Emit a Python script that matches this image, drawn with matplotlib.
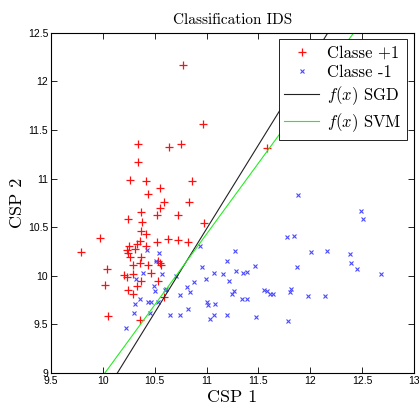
import matplotlib
matplotlib.use("Agg")
import matplotlib.pyplot as plt

plt.rcParams["mathtext.fontset"] = "cm"
plt.rcParams["axes.unicode_minus"] = False

# Classe +1 (red crosses)
pos_x = [10.77, 10.97, 10.34, 10.75, 10.64, 10.34, 10.26, 10.42, 10.86, 10.55,
         10.44, 10.59, 10.83, 10.55, 10.37, 10.52, 10.72, 10.24, 10.38, 10.98,
         10.37, 10.42, 9.97, 10.63, 10.72, 10.82, 10.52, 10.36, 10.33, 10.25,
         10.23, 10.24, 10.26, 10.31, 10.37, 10.42, 9.79, 10.53, 10.55, 10.56,
         10.29, 10.36, 10.44, 10.04, 10.46, 10.20, 10.23, 10.29, 10.37, 10.53,
         10.02, 10.33, 10.24, 10.29, 10.59, 10.05, 10.36, 11.58]
pos_y = [12.17, 11.56, 11.36, 11.36, 11.32, 11.17, 10.98, 10.97, 10.97, 10.90,
         10.84, 10.76, 10.76, 10.70, 10.66, 10.63, 10.63, 10.58, 10.55, 10.54,
         10.46, 10.43, 10.39, 10.38, 10.37, 10.35, 10.35, 10.36, 10.33, 10.31,
         10.26, 10.23, 10.19, 10.28, 10.19, 10.31, 10.24, 10.15, 10.13, 10.11,
         10.11, 10.13, 10.11, 10.07, 10.03, 10.01, 9.99, 10.02, 9.95, 9.95,
         9.91, 9.89, 9.85, 9.81, 9.78, 9.59, 9.54, 11.31]

# Classe -1 (blue x)
neg_x = [10.43, 10.54, 10.51, 10.94, 11.27, 11.20, 10.57, 10.96, 11.07, 11.16,
         11.28, 10.71, 10.99, 11.22, 10.88, 10.32, 10.81, 10.84, 10.61, 10.60,
         10.49, 10.50, 10.74, 11.26, 11.25, 10.36, 10.44, 10.46, 11.00, 11.01,
         11.08, 10.31, 10.53, 10.82, 10.30, 10.45, 10.65, 10.74, 11.07, 11.03,
         11.20, 10.22, 12.49, 12.51, 11.78, 11.84, 11.35, 11.39, 11.47, 11.87,
         12.01, 12.16, 12.38, 12.39, 12.45, 12.68, 11.34, 11.39, 11.55, 11.58,
         11.61, 11.64, 11.81, 11.80, 11.98, 12.14, 11.48, 11.79, 10.39, 11.88]
neg_y = [10.26, 10.23, 10.15, 10.31, 10.25, 10.15, 10.02, 10.09, 10.03, 10.02,
         10.05, 10.00, 9.97, 9.95, 9.94, 9.97, 9.88, 9.83, 9.86, 9.85,
         9.89, 9.84, 9.80, 9.84, 9.81, 9.76, 9.73, 9.73, 9.73, 9.70,
         9.71, 9.71, 9.73, 9.66, 9.62, 9.62, 9.60, 9.60, 9.60, 9.56,
         9.60, 9.46, 10.67, 10.58, 10.40, 10.41, 10.03, 10.04, 10.10, 10.09,
         10.24, 10.25, 10.22, 10.13, 10.07, 10.02, 9.76, 9.76, 9.85, 9.84,
         9.81, 9.81, 9.86, 9.83, 9.79, 9.79, 9.58, 9.53, 10.03, 10.83]

# decision boundaries (end points)
sgd_x = [10.14, 12.17]
sgd_y = [9.0, 12.5]
svm_x = [10.02, 12.42]
svm_y = [9.0, 12.5]

x_ticks = [9.5, 10, 10.5, 11, 11.5, 12, 12.5, 13]
x_labels = ["9.5", "10", "10.5", "11", "11.5", "12", "12.5", "13"]
y_ticks = [9, 9.5, 10, 10.5, 11, 11.5, 12, 12.5]
y_labels = ["9", "9.5", "10", "10.5", "11", "11.5", "12", "12.5"]

SERIF = "cmr10"

fig = plt.figure(figsize=(4.19, 4.16), dpi=100)
ax = fig.add_axes([0.1217, 0.1034, 0.8663, 0.818])

ax.plot(pos_x, pos_y, "+", color="#ff1010", markersize=6, markeredgewidth=0.9,
        label="Classe +1")
ax.plot(neg_x, neg_y, "x", color="#4a4aff", markersize=3.5, markeredgewidth=0.8,
        label="Classe -1")
ax.plot(sgd_x, sgd_y, color="#222222", linewidth=0.8, label="$f(x)$ SGD")
ax.plot(svm_x, svm_y, color="#22ee22", linewidth=0.8, label="$f(x)$ SVM")

ax.set_xlim(9.5, 13)
ax.set_ylim(9, 12.5)
ax.set_xticks(x_ticks)
ax.set_xticklabels(x_labels)
ax.set_yticks(y_ticks)
ax.set_yticklabels(y_labels)
ax.tick_params(direction="in", length=4, width=0.6, top=True, right=True,
               labelsize=7.5, pad=2)
for lab in ax.get_xticklabels() + ax.get_yticklabels():
    lab.set_fontfamily("Liberation Sans")
for spine in ax.spines.values():
    spine.set_linewidth(0.8)

ax.set_title("Classification IDS", fontfamily=SERIF, fontsize=11, pad=6)
ax.set_xlabel("CSP 1", fontfamily=SERIF, fontsize=13, labelpad=3)
ax.set_ylabel("CSP 2", fontfamily=SERIF, fontsize=13, labelpad=2)

leg = ax.legend(loc="upper right", prop={"family": SERIF, "size": 12},
                fancybox=False, framealpha=1, edgecolor="black",
                handlelength=2.1, handletextpad=0.45, borderaxespad=0.4,
                labelspacing=0.25, borderpad=0.35)
leg.get_frame().set_linewidth(0.6)

fig.savefig("out.png", dpi=100)
